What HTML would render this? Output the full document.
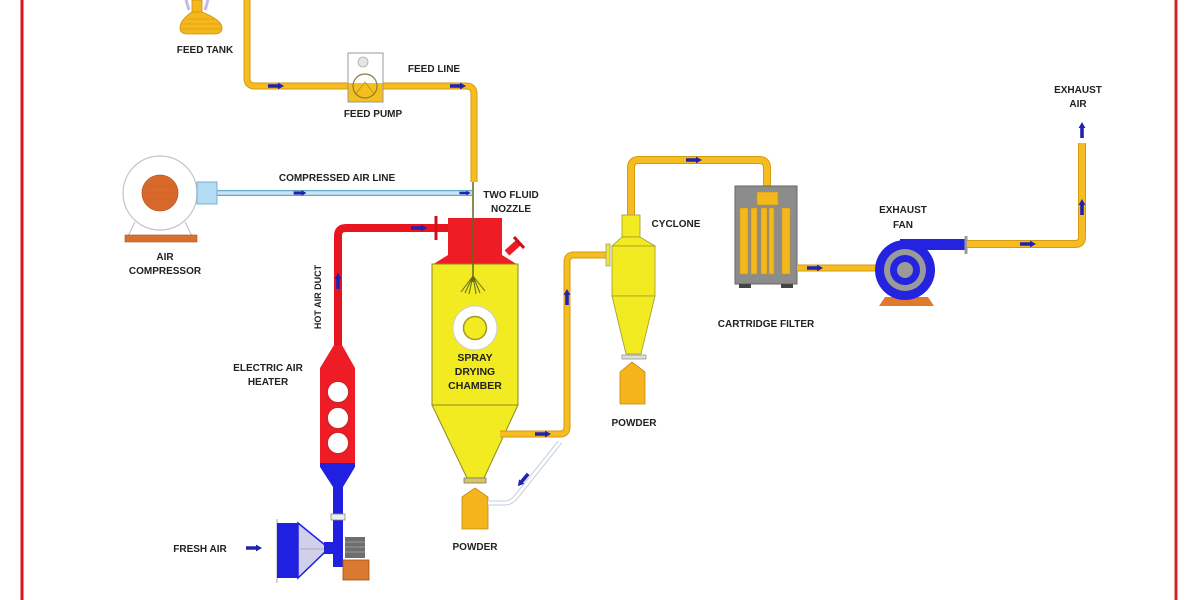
<!DOCTYPE html>
<html><head><meta charset="utf-8"><style>
html,body{margin:0;padding:0;background:#fff;}
svg{display:block;}
text{font-family:"Liberation Sans",sans-serif;font-weight:bold;font-size:10px;fill:#222;text-anchor:middle;}
</style></head><body>
<svg width="1200" height="600" viewBox="0 0 1200 600" xmlns="http://www.w3.org/2000/svg">
<defs>
<path id="ar" d="M-8,-1.8 L2,-1.8 L2,-3.4 L8,0 L2,3.4 L2,1.8 L-8,1.8 Z" fill="#2222b0"/>
</defs>
<rect width="1200" height="600" fill="#fff"/>
<!-- frame -->
<line x1="22" y1="0" x2="22" y2="600" stroke="#e01414" stroke-width="3"/>
<line x1="1176" y1="0" x2="1176" y2="600" stroke="#c82828" stroke-width="3"/>

<!-- feed tank -->
<path d="M186,0 L189,10 M208,0 L205,10" stroke="#c8b8e4" stroke-width="3" fill="none"/>
<rect x="192" y="0" width="10" height="14" fill="#f5b81c" stroke="#c89010" stroke-width="0.8"/>
<path d="M192,12 L202,12 Q222,20 222,28 Q222,34 214,34 L188,34 Q180,34 180,28 Q180,20 192,12 Z" fill="#f5b81c" stroke="#c89010" stroke-width="0.8"/>
<path d="M187,19 H215 M182,24 H220 M181,29 H221" stroke="#d69a10" stroke-width="0.8"/>

<!-- feed line -->
<path d="M247,0 L247,78 Q247,86 255,86 L466,86 Q474,86 474,94 L474,182" fill="none" stroke="#d49a10" stroke-width="7"/>
<path d="M247,0 L247,78 Q247,86 255,86 L466,86 Q474,86 474,94 L474,182" fill="none" stroke="#f6bd22" stroke-width="5"/>
<use href="#ar" transform="translate(276,86)"/>
<use href="#ar" transform="translate(458,86)"/>

<!-- feed pump -->
<rect x="348" y="53" width="35" height="49" fill="#fff" stroke="#999" stroke-width="1"/>
<rect x="348.5" y="83" width="34" height="18.5" fill="#f5c01c"/>
<circle cx="365" cy="86" r="12" fill="none" stroke="#8a7a40" stroke-width="1.2"/>
<circle cx="363" cy="62" r="5" fill="#e4e4e4" stroke="#aaa" stroke-width="0.8"/>
<path d="M355,95 L365,82 L375,95" fill="none" stroke="#b09020" stroke-width="0.8"/>

<!-- compressed air line -->
<line x1="216" y1="193" x2="472" y2="193" stroke="#6aa6c6" stroke-width="6"/>
<line x1="216" y1="193" x2="472" y2="193" stroke="#c6e6f8" stroke-width="3.5"/>
<use href="#ar" transform="translate(300,193) scale(0.8)"/>
<use href="#ar" transform="translate(465,193) scale(0.7)"/>

<!-- air compressor -->
<line x1="135" y1="222" x2="128" y2="236" stroke="#bbb" stroke-width="1"/>
<line x1="185" y1="222" x2="192" y2="236" stroke="#bbb" stroke-width="1"/>
<circle cx="160" cy="193" r="37" fill="#fff" stroke="#c4c4c4" stroke-width="1.2"/>
<circle cx="160" cy="193" r="18" fill="#d9692a" stroke="#b8551e" stroke-width="0.8"/>
<path d="M145,186 H175 M143,193 H177 M145,200 H175" stroke="#c65c22" stroke-width="0.6"/>
<rect x="197" y="182" width="20" height="22" fill="#b4dcf4" stroke="#7ab0d0" stroke-width="1"/>
<rect x="125" y="235" width="72" height="7" fill="#d9702e" stroke="#a85220" stroke-width="0.6"/>

<!-- nozzle line -->
<line x1="473" y1="182" x2="473" y2="282" stroke="#5f6a1a" stroke-width="1.5"/>

<!-- hot air duct -->
<path d="M338,350 L338,236 Q338,228 346,228 L448,228" fill="none" stroke="#e8141e" stroke-width="8"/>
<line x1="436" y1="216" x2="436" y2="240" stroke="#d01018" stroke-width="3"/>
<use href="#ar" transform="translate(338,281) rotate(-90)"/>
<use href="#ar" transform="translate(419,228)"/>

<!-- chamber -->
<rect x="448" y="218" width="54" height="38" fill="#ee1c25"/>
<polygon points="448,255 502,255 518,265 432,265" fill="#ee1c25"/>
<line x1="507" y1="253" x2="518" y2="243" stroke="#ee1c25" stroke-width="7"/>
<line x1="514" y1="237" x2="524" y2="248" stroke="#c81018" stroke-width="3"/>
<rect x="432" y="264" width="86" height="141" fill="#f2eb22" stroke="#8c8a20" stroke-width="1"/>
<polygon points="432,405 518,405 484,478 467,478" fill="#f2eb22" stroke="#8c8a20" stroke-width="1"/>
<rect x="464" y="478" width="22" height="5" fill="#d6c660" stroke="#777" stroke-width="0.8"/>
<line x1="473" y1="218" x2="473" y2="282" stroke="#5f6a1a" stroke-width="1.5"/>
<path d="M473,276 L461,292 M473,276 L465,293 M473,276 L469,294 M473,276 L476,294 M473,276 L480,293 M473,276 L485,291" stroke="#5f6a1a" stroke-width="1" fill="none"/>
<circle cx="475" cy="328" r="22" fill="#fff" stroke="#ccc" stroke-width="1"/>
<circle cx="475" cy="328" r="11.5" fill="#f2eb22" stroke="#a09a20" stroke-width="1.5"/>

<!-- powder under chamber -->
<path d="M462,497 L475,488 L488,497 L488,529 L462,529 Z" fill="#f5b31c" stroke="#c08a10" stroke-width="0.8"/>

<!-- return line -->
<path d="M488,503 L505,503 Q511,503 516,497 L560,442" fill="none" stroke="#c4cce0" stroke-width="5"/>
<path d="M488,503 L505,503 Q511,503 516,497 L560,442" fill="none" stroke="#fff" stroke-width="3"/>
<use href="#ar" transform="translate(523,480) rotate(130)"/>

<!-- duct chamber to cyclone -->
<path d="M500,434 L560,434 Q567,434 567,427 L567,262 Q567,255 574,255 L607,255" fill="none" stroke="#d49a10" stroke-width="7"/>
<path d="M500,434 L560,434 Q567,434 567,427 L567,262 Q567,255 574,255 L607,255" fill="none" stroke="#f6bd22" stroke-width="5"/>
<use href="#ar" transform="translate(543,434)"/>
<use href="#ar" transform="translate(567,297) rotate(-90)"/>
<rect x="606" y="244" width="4" height="22" fill="#f2eb22" stroke="#999" stroke-width="0.8"/>

<!-- cyclone to filter pipe -->
<path d="M631,218 L631,168 Q631,160 639,160 L759,160 Q767,160 767,168 L767,190" fill="none" stroke="#d49a10" stroke-width="8"/>
<path d="M631,218 L631,168 Q631,160 639,160 L759,160 Q767,160 767,168 L767,190" fill="none" stroke="#f6bd22" stroke-width="6"/>
<use href="#ar" transform="translate(694,160)"/>

<!-- cyclone -->
<rect x="622" y="215" width="18" height="22" fill="#f2eb22" stroke="#9a9a30" stroke-width="0.8"/>
<polygon points="622,237 640,237 655,246 612,246" fill="#f2eb22" stroke="#9a9a30" stroke-width="0.8"/>
<rect x="612" y="246" width="43" height="50" fill="#f2eb22" stroke="#9a9a30" stroke-width="0.8"/>
<polygon points="612,296 655,296 641,354 626,354" fill="#f2eb22" stroke="#9a9a30" stroke-width="0.8"/>
<rect x="622" y="355" width="24" height="4" fill="#ddd" stroke="#888" stroke-width="0.7"/>
<path d="M620,372 L632,362 L645,372 L645,404 L620,404 Z" fill="#f5b31c" stroke="#c08a10" stroke-width="0.8"/>

<!-- cartridge filter -->
<rect x="735" y="186" width="62" height="98" fill="#8c8c8c" stroke="#666" stroke-width="1"/>
<rect x="757" y="192" width="21" height="13" fill="#f5b81c" stroke="#c89010" stroke-width="0.6"/>
<rect x="740" y="208" width="8" height="66" fill="#f5b81c" stroke="#c89010" stroke-width="0.5"/>
<rect x="751" y="208" width="6" height="66" fill="#f5b81c" stroke="#c89010" stroke-width="0.5"/>
<rect x="761" y="208" width="6" height="66" fill="#f5b81c" stroke="#c89010" stroke-width="0.5"/>
<rect x="769" y="208" width="5" height="66" fill="#f5b81c" stroke="#c89010" stroke-width="0.5"/>
<rect x="782" y="208" width="8" height="66" fill="#f5b81c" stroke="#c89010" stroke-width="0.5"/>
<rect x="739" y="284" width="12" height="4" fill="#444"/>
<rect x="781" y="284" width="12" height="4" fill="#444"/>

<!-- filter to fan -->
<line x1="797" y1="268" x2="877" y2="268" stroke="#d49a10" stroke-width="7"/>
<line x1="797" y1="268" x2="877" y2="268" stroke="#f6bd22" stroke-width="5"/>
<use href="#ar" transform="translate(815,268)"/>

<!-- exhaust fan -->
<polygon points="885,297 928,297 934,306 879,306" fill="#e07a30"/>
<rect x="900" y="239" width="65" height="11" fill="#2424e0"/>
<circle cx="905" cy="270" r="30" fill="#2424e0"/>
<circle cx="905" cy="270" r="21" fill="#9a9a9a"/>
<circle cx="905" cy="270" r="15" fill="#2424e0"/>
<circle cx="905" cy="270" r="8" fill="#9a9a9a"/>
<line x1="966" y1="236" x2="966" y2="254" stroke="#999" stroke-width="3"/>

<!-- exhaust pipe -->
<path d="M967,244 L1075,244 Q1082,244 1082,237 L1082,143" fill="none" stroke="#d49a10" stroke-width="8"/>
<path d="M967,244 L1075,244 Q1082,244 1082,237 L1082,143" fill="none" stroke="#f6bd22" stroke-width="6"/>
<use href="#ar" transform="translate(1028,244)"/>
<use href="#ar" transform="translate(1082,207) rotate(-90)"/>
<use href="#ar" transform="translate(1082,130) rotate(-90)"/>

<!-- heater -->
<path d="M334,345 L342,345 L355,368 L355,464 L320,464 L320,368 Z" fill="#ee1c25"/>
<path d="M320,463 L355,463 L355,467 L343,487 L333,487 L320,467 Z" fill="#2020e0"/>
<circle cx="338" cy="392" r="10.5" fill="#fff" stroke="#c02020" stroke-width="0.8"/>
<circle cx="338" cy="418" r="10.5" fill="#fff" stroke="#c02020" stroke-width="0.8"/>
<circle cx="338" cy="443" r="10.5" fill="#fff" stroke="#c02020" stroke-width="0.8"/>
<rect x="333" y="485" width="10" height="82" fill="#2020e0"/>
<rect x="331" y="514" width="14" height="6" fill="#eee" stroke="#888" stroke-width="0.8"/>

<!-- blower -->
<line x1="277" y1="519" x2="277" y2="583" stroke="#aaa" stroke-width="1"/>
<rect x="277" y="523" width="21" height="55" fill="#2020e0"/>
<polygon points="298,523 325,545 325,552 298,578" fill="#d0d0ea" stroke="#2020e0" stroke-width="1.5"/>
<line x1="298" y1="549" x2="325" y2="549" stroke="#888" stroke-width="0.6"/>
<rect x="324" y="542" width="11" height="12" fill="#2020e0"/>
<rect x="345" y="537" width="20" height="21" fill="#6e6e6e"/>
<path d="M345,542 H365 M345,547 H365 M345,552 H365" stroke="#999" stroke-width="1"/>
<rect x="343" y="560" width="26" height="20" fill="#d97a30" stroke="#a05010" stroke-width="0.8"/>
<use href="#ar" transform="translate(254,548)"/>

<!-- labels -->
<text x="205" y="53">FEED TANK</text>
<text x="373" y="117">FEED PUMP</text>
<text x="434" y="72">FEED LINE</text>
<text x="337" y="181">COMPRESSED AIR LINE</text>
<text x="165" y="260">AIR</text>
<text x="165" y="274">COMPRESSOR</text>
<text x="511" y="198">TWO FLUID</text>
<text x="511" y="212">NOZZLE</text>
<text transform="translate(321,297) rotate(-90)" style="font-size:9px">HOT AIR DUCT</text>
<text x="268" y="371">ELECTRIC AIR</text>
<text x="268" y="385">HEATER</text>
<text x="475" y="361" style="font-size:10.5px">SPRAY</text>
<text x="475" y="375" style="font-size:10.5px">DRYING</text>
<text x="475" y="389" style="font-size:10.5px">CHAMBER</text>
<text x="475" y="550">POWDER</text>
<text x="200" y="552">FRESH AIR</text>
<text x="676" y="227">CYCLONE</text>
<text x="634" y="426">POWDER</text>
<text x="766" y="327">CARTRIDGE FILTER</text>
<text x="903" y="213">EXHAUST</text>
<text x="903" y="228">FAN</text>
<text x="1078" y="93">EXHAUST</text>
<text x="1078" y="107">AIR</text>
<text x="356" y="607">BLOWER</text>
</svg>
</body></html>
